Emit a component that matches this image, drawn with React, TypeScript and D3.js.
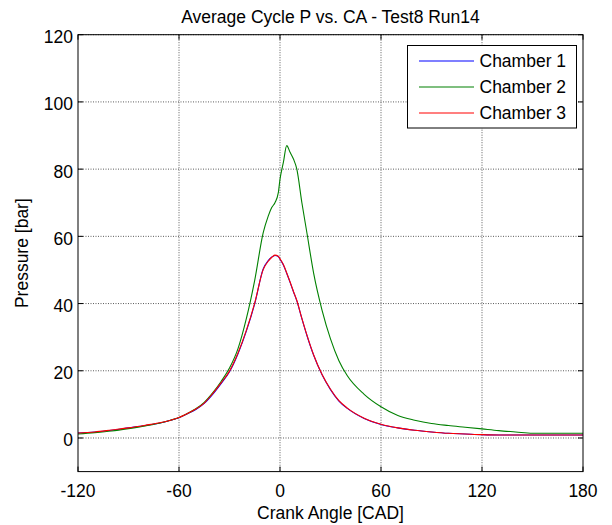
import { useEffect, useRef } from 'react';
import * as d3 from 'd3';

const TITLE = 'Average Cycle P vs. CA - Test8 Run14';
const X_LABEL = 'Crank Angle [CAD]';
const Y_LABEL = 'Pressure [bar]';

const X_TICKS = [-120, -60, 0, 60, 120, 180];
const Y_TICKS = [0, 20, 40, 60, 80, 100, 120];

const SERIES_NAMES = ['Chamber 1', 'Chamber 2', 'Chamber 3'];
const SERIES_COLORS = ['#0000ff', '#008000', '#ff0000'];

// crank angle samples [CAD]
const crankAngle = [
  -120, -110, -100, -90, -80, -70, -65, -60, -55, -50, -45, -40, -35, -30, -25,
  -20, -15, -10, -7, -5, -3, -1, 0, 2, 4, 6, 8, 10, 13, 16,
  20, 25, 30, 35, 40, 50, 60, 70, 80, 90, 100, 110, 120, 130, 140,
  150, 160, 170, 180,
];

// pressure [bar]
const chamber1 = [
  1.5, 1.8, 2.3, 3.0, 3.7, 4.6, 5.3, 6.0, 7.2, 8.5, 10.3, 13.0, 16.2, 19.7, 25.0,
  31.8, 40.0, 50.3, 52.8, 53.8, 54.3, 54.0, 53.2, 51.5, 49.0, 46.3, 43.5, 40.8, 35.5, 30.5,
  24.6, 18.8, 14.4, 11.0, 8.8, 5.8, 4.0, 3.0, 2.3, 1.8, 1.4, 1.2, 1.0, 0.9, 0.9,
  0.9, 0.9, 0.9, 0.9,
];

const chamber2 = [
  1.2, 1.6, 2.1, 2.8, 3.6, 4.6, 5.3, 6.1, 7.3, 8.7, 10.6, 13.4, 16.8, 20.8, 26.5,
  35.5, 47.0, 61.0, 66.0, 68.5, 70.0, 73.0, 77.0, 82.0, 87.0, 85.0, 83.0, 80.0, 70.0, 61.0,
  49.0, 38.0, 29.5, 23.0, 18.5, 13.0, 9.3, 6.7, 5.3, 4.3, 3.7, 3.2, 2.7, 2.2, 1.8,
  1.4, 1.4, 1.4, 1.4,
];

const chamber3 = [
  1.5, 1.8, 2.4, 3.0, 3.8, 4.7, 5.3, 6.1, 7.3, 8.6, 10.4, 13.2, 16.4, 19.9, 25.2,
  32.0, 40.2, 50.1, 52.6, 53.7, 54.4, 54.1, 53.3, 51.6, 49.1, 46.4, 43.6, 40.9, 35.6, 30.6,
  24.7, 18.9, 14.5, 11.1, 8.9, 5.9, 4.1, 3.0, 2.3, 1.8, 1.4, 1.2, 1.0, 0.9, 0.9,
  0.9, 0.9, 0.9, 0.9,
];

const SERIES = [chamber1, chamber2, chamber3];

export default function App() {
  const svgRef = useRef<SVGSVGElement | null>(null);

  useEffect(() => {
    if (!svgRef.current) return;
    const svg = d3.select(svgRef.current);
    svg.selectAll('*').remove();

    const width = 612;
    const height = 525;
    const plot = { left: 78, right: 583, top: 34.7, bottom: 471.6 };
    const font = "'Liberation Sans', Arial, Helvetica, sans-serif";
    const fontSize = 17.5;

    svg.append('rect').attr('width', width).attr('height', height).attr('fill', 'white');

    const x = d3.scaleLinear().domain([-120, 180]).range([plot.left, plot.right]);
    const y = d3.scaleLinear().domain([-10, 120]).range([plot.bottom, plot.top]);

    // grid
    const grid = svg.append('g')
      .attr('stroke', '#4a4a4a')
      .attr('stroke-width', 0.9)
      .attr('stroke-dasharray', '1,1.5');
    X_TICKS.slice(1, -1).forEach(t => {
      grid.append('line')
        .attr('x1', x(t)).attr('x2', x(t))
        .attr('y1', plot.top).attr('y2', plot.bottom);
    });
    Y_TICKS.forEach(t => {
      grid.append('line')
        .attr('x1', plot.left).attr('x2', plot.right)
        .attr('y1', y(t)).attr('y2', y(t));
    });

    // data lines
    const line = d3.line<number>()
      .x((_, i) => x(crankAngle[i]))
      .y(d => y(d))
      .curve(d3.curveMonotoneX);

    SERIES.forEach((values, i) => {
      svg.append('path')
        .datum(values)
        .attr('fill', 'none')
        .attr('stroke', SERIES_COLORS[i])
        .attr('stroke-width', 1.1)
        .attr('d', line);
    });

    // axes box and inward ticks
    const tickLen = 5;
    const axes = svg.append('g').attr('stroke', 'black').attr('stroke-width', 1);
    axes.append('rect')
      .attr('x', plot.left).attr('y', plot.top)
      .attr('width', plot.right - plot.left).attr('height', plot.bottom - plot.top)
      .attr('fill', 'none');
    X_TICKS.forEach(t => {
      axes.append('line').attr('x1', x(t)).attr('x2', x(t))
        .attr('y1', plot.bottom).attr('y2', plot.bottom - tickLen);
      axes.append('line').attr('x1', x(t)).attr('x2', x(t))
        .attr('y1', plot.top).attr('y2', plot.top + tickLen);
    });
    Y_TICKS.forEach(t => {
      axes.append('line').attr('x1', plot.left).attr('x2', plot.left + tickLen)
        .attr('y1', y(t)).attr('y2', y(t));
      axes.append('line').attr('x1', plot.right).attr('x2', plot.right - tickLen)
        .attr('y1', y(t)).attr('y2', y(t));
    });

    const text = svg.append('g')
      .attr('font-family', font)
      .attr('font-size', fontSize)
      .attr('fill', 'black');

    // tick labels
    X_TICKS.forEach(t => {
      text.append('text')
        .attr('x', x(t)).attr('y', plot.bottom + 25)
        .attr('text-anchor', 'middle')
        .text(String(t));
    });
    Y_TICKS.forEach(t => {
      text.append('text')
        .attr('x', plot.left - 5).attr('y', y(t) + 8.5)
        .attr('text-anchor', 'end')
        .text(String(t));
    });

    // title and axis labels
    const cx = (plot.left + plot.right) / 2;
    text.append('text')
      .attr('x', cx).attr('y', 22.5)
      .attr('text-anchor', 'middle')
      .text(TITLE);
    text.append('text')
      .attr('x', cx).attr('y', 519)
      .attr('text-anchor', 'middle')
      .text(X_LABEL);
    text.append('text')
      .attr('transform', `translate(28,${(plot.top + plot.bottom) / 2}) rotate(-90)`)
      .attr('text-anchor', 'middle')
      .text(Y_LABEL);

    // legend
    const lg = svg.append('g');
    lg.append('rect')
      .attr('x', 407.5).attr('y', 45.5)
      .attr('width', 169).attr('height', 82.5)
      .attr('fill', 'white')
      .attr('stroke', 'black')
      .attr('stroke-width', 1);
    SERIES_NAMES.forEach((name, i) => {
      const ry = 61 + i * 26;
      lg.append('line')
        .attr('x1', 419).attr('x2', 474)
        .attr('y1', ry).attr('y2', ry)
        .attr('stroke', SERIES_COLORS[i])
        .attr('stroke-width', 1.1);
      lg.append('text')
        .attr('x', 479.5).attr('y', ry + 6)
        .attr('font-family', font)
        .attr('font-size', fontSize)
        .text(name);
    });
  }, []);

  return (
    <svg
      ref={svgRef}
      width={612}
      height={525}
      style={{ position: 'absolute', left: 0, top: 0 }}
    />
  );
}
